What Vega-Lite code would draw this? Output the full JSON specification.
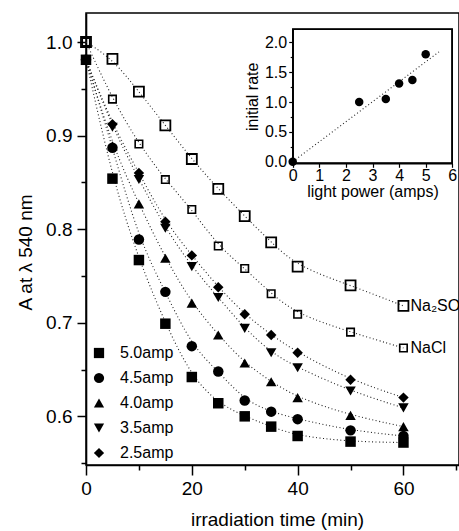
{
  "$schema": "https://vega.github.io/schema/vega-lite/v6.json",
  "width": 373,
  "height": 452,
  "autosize": "none",
  "padding": {"left": 86, "top": 13, "right": 0, "bottom": 66},
  "background": "white",
  "config": {
    "font": "Liberation Sans",
    "view": {"stroke": "black", "strokeWidth": 1.5},
    "axis": {"grid": false, "domainColor": "black", "tickColor": "black", "labelColor": "black", "titleColor": "black", "titleFontWeight": "normal", "labelOverlap": false, "labelFlush": false, "labelFont": "Liberation Sans", "titleFont": "Liberation Sans"},
    "legend": {"labelFont": "Liberation Sans"},
    "text": {"font": "Liberation Sans"}
  },
  "datasets": {
    "main": [
      {"t": 0, "A": 1.0, "s": "Na₂SO₄"}, {"t": 5, "A": 0.982, "s": "Na₂SO₄"}, {"t": 10, "A": 0.947, "s": "Na₂SO₄"}, {"t": 15, "A": 0.911, "s": "Na₂SO₄"}, {"t": 20, "A": 0.875, "s": "Na₂SO₄"}, {"t": 25, "A": 0.843, "s": "Na₂SO₄"}, {"t": 30, "A": 0.814, "s": "Na₂SO₄"}, {"t": 35, "A": 0.786, "s": "Na₂SO₄"}, {"t": 40, "A": 0.760, "s": "Na₂SO₄"}, {"t": 50, "A": 0.740, "s": "Na₂SO₄"}, {"t": 60, "A": 0.718, "s": "Na₂SO₄"},
      {"t": 0, "A": 1.0, "s": "NaCl"}, {"t": 5, "A": 0.939, "s": "NaCl"}, {"t": 10, "A": 0.891, "s": "NaCl"}, {"t": 15, "A": 0.853, "s": "NaCl"}, {"t": 20, "A": 0.821, "s": "NaCl"}, {"t": 25, "A": 0.782, "s": "NaCl"}, {"t": 30, "A": 0.758, "s": "NaCl"}, {"t": 35, "A": 0.731, "s": "NaCl"}, {"t": 40, "A": 0.709, "s": "NaCl"}, {"t": 50, "A": 0.690, "s": "NaCl"}, {"t": 60, "A": 0.673, "s": "NaCl"},
      {"t": 0, "A": 0.981, "s": "5.0amp"}, {"t": 5, "A": 0.854, "s": "5.0amp"}, {"t": 10, "A": 0.767, "s": "5.0amp"}, {"t": 15, "A": 0.699, "s": "5.0amp"}, {"t": 20, "A": 0.642, "s": "5.0amp"}, {"t": 25, "A": 0.614, "s": "5.0amp"}, {"t": 30, "A": 0.600, "s": "5.0amp"}, {"t": 35, "A": 0.589, "s": "5.0amp"}, {"t": 40, "A": 0.579, "s": "5.0amp"}, {"t": 50, "A": 0.573, "s": "5.0amp"}, {"t": 60, "A": 0.572, "s": "5.0amp"},
      {"t": 0, "A": 0.981, "s": "4.5amp"}, {"t": 5, "A": 0.887, "s": "4.5amp"}, {"t": 10, "A": 0.789, "s": "4.5amp"}, {"t": 15, "A": 0.733, "s": "4.5amp"}, {"t": 20, "A": 0.675, "s": "4.5amp"}, {"t": 25, "A": 0.648, "s": "4.5amp"}, {"t": 30, "A": 0.617, "s": "4.5amp"}, {"t": 35, "A": 0.605, "s": "4.5amp"}, {"t": 40, "A": 0.597, "s": "4.5amp"}, {"t": 50, "A": 0.585, "s": "4.5amp"}, {"t": 60, "A": 0.579, "s": "4.5amp"},
      {"t": 0, "A": 0.981, "s": "4.0amp"}, {"t": 5, "A": 0.889, "s": "4.0amp"}, {"t": 10, "A": 0.827, "s": "4.0amp"}, {"t": 15, "A": 0.769, "s": "4.0amp"}, {"t": 20, "A": 0.721, "s": "4.0amp"}, {"t": 25, "A": 0.687, "s": "4.0amp"}, {"t": 30, "A": 0.657, "s": "4.0amp"}, {"t": 35, "A": 0.637, "s": "4.0amp"}, {"t": 40, "A": 0.620, "s": "4.0amp"}, {"t": 50, "A": 0.601, "s": "4.0amp"}, {"t": 60, "A": 0.589, "s": "4.0amp"},
      {"t": 0, "A": 0.981, "s": "3.5amp"}, {"t": 5, "A": 0.909, "s": "3.5amp"}, {"t": 10, "A": 0.853, "s": "3.5amp"}, {"t": 15, "A": 0.801, "s": "3.5amp"}, {"t": 20, "A": 0.760, "s": "3.5amp"}, {"t": 25, "A": 0.727, "s": "3.5amp"}, {"t": 30, "A": 0.694, "s": "3.5amp"}, {"t": 35, "A": 0.668, "s": "3.5amp"}, {"t": 40, "A": 0.652, "s": "3.5amp"}, {"t": 50, "A": 0.627, "s": "3.5amp"}, {"t": 60, "A": 0.609, "s": "3.5amp"},
      {"t": 0, "A": 0.981, "s": "2.5amp"}, {"t": 5, "A": 0.912, "s": "2.5amp"}, {"t": 10, "A": 0.860, "s": "2.5amp"}, {"t": 15, "A": 0.808, "s": "2.5amp"}, {"t": 20, "A": 0.772, "s": "2.5amp"}, {"t": 25, "A": 0.738, "s": "2.5amp"}, {"t": 30, "A": 0.709, "s": "2.5amp"}, {"t": 35, "A": 0.687, "s": "2.5amp"}, {"t": 40, "A": 0.668, "s": "2.5amp"}, {"t": 50, "A": 0.639, "s": "2.5amp"}, {"t": 60, "A": 0.620, "s": "2.5amp"}
    ],
    "labels": [
      {"t": 60, "A": 0.718, "label": "Na₂SO₄", "s": "Na₂SO₄"},
      {"t": 60, "A": 0.673, "label": "NaCl", "s": "NaCl"}
    ],
    "inset": [
      {"p": 0, "r": 0.0}, {"p": 2.5, "r": 1.0}, {"p": 3.5, "r": 1.05}, {"p": 4.0, "r": 1.31}, {"p": 4.5, "r": 1.37}, {"p": 5.0, "r": 1.80}
    ],
    "insetfit": [
      {"p": 0, "r": 0.0}, {"p": 5.5, "r": 1.84}
    ]
  },
  "layer": [
    {
      "layer": [
        {
          "data": {"name": "main"},
          "mark": {"type": "line", "interpolate": "basis", "strokeDash": [1, 2.5], "strokeWidth": 1.1, "color": "#222"},
          "encoding": {
            "x": {"field": "t", "type": "quantitative", "scale": {"domain": [0, 70.5], "nice": false, "zero": false},
              "axis": {"values": [0, 10, 20, 30, 40, 50, 60, 70], "labelExpr": "datum.value % 20 == 0 ? datum.label : ''",
                "tickSize": {"condition": {"test": "datum.value % 20 == 0", "value": 10}, "value": 5},
                "title": "irradiation time (min)", "labelFontSize": 19, "titleFontSize": 19, "labelPadding": 4, "titlePadding": 12, "titleX": 191,
                "domainWidth": 1.6, "tickWidth": 1.5}},
            "y": {"field": "A", "type": "quantitative", "scale": {"domain": [0.548, 1.031], "nice": false, "zero": false},
              "axis": {"values": [0.55, 0.6, 0.65, 0.7, 0.75, 0.8, 0.85, 0.9, 0.95, 1.0],
                "labelExpr": "round(datum.value * 100) % 10 == 0 ? format(datum.value, '.1f') : ''",
                "tickSize": {"condition": {"test": "round(datum.value * 100) % 10 == 0", "value": 9}, "value": 5},
                "title": "A at λ 540 nm", "labelFontSize": 19, "titleFontSize": 19, "labelPadding": 5, "titlePadding": 10, "titleY": 239,
                "domainWidth": 1.6, "tickWidth": 1.5}},
            "detail": {"field": "s"}
          }
        },
        {
          "data": {"name": "main"},
          "transform": [{"filter": "datum.s == 'Na₂SO₄'"}],
          "mark": {"type": "point", "shape": "square", "filled": false, "size": 100, "strokeWidth": 1.8, "color": "black", "opacity": 1},
          "encoding": {"x": {"field": "t", "type": "quantitative"}, "y": {"field": "A", "type": "quantitative"}}
        },
        {
          "data": {"name": "main"},
          "transform": [{"filter": "datum.s == 'NaCl'"}],
          "mark": {"type": "point", "shape": "square", "filled": false, "size": 56, "strokeWidth": 1.6, "color": "black", "opacity": 1},
          "encoding": {"x": {"field": "t", "type": "quantitative"}, "y": {"field": "A", "type": "quantitative"}}
        },
        {
          "data": {"name": "main"},
          "transform": [{"filter": "datum.s != 'NaCl' && datum.s != 'Na₂SO₄'"}],
          "mark": {"type": "point", "filled": true, "size": 110, "color": "black", "opacity": 1},
          "encoding": {
            "x": {"field": "t", "type": "quantitative"},
            "y": {"field": "A", "type": "quantitative"},
            "shape": {"field": "s", "type": "nominal",
              "scale": {"domain": ["5.0amp", "4.5amp", "4.0amp", "3.5amp", "2.5amp"], "range": ["square", "circle", "triangle-up", "triangle-down", "diamond"]},
              "legend": {"orient": "none", "legendX": 5, "legendY": 332, "title": null, "labelFontSize": 16, "labelColor": "black", "symbolSize": 105, "symbolFillColor": "black", "symbolStrokeColor": "black", "symbolStrokeWidth": 0, "rowPadding": 9, "labelOffset": 13, "padding": 0}}
          }
        },
        {
          "data": {"name": "labels"},
          "mark": {"type": "text", "align": "left", "baseline": "middle", "fontSize": 16, "color": "black"},
          "encoding": {
            "x": {"field": "t", "type": "quantitative"},
            "y": {"field": "A", "type": "quantitative"},
            "text": {"field": "label"},
            "xOffset": {"condition": {"test": "datum.s == 'NaCl'", "value": 14}, "value": 7}
          }
        }
      ]
    },
    {
      "layer": [
        {
          "data": {"name": "insetfit"},
          "mark": {"type": "line", "strokeDash": [1, 2.5], "strokeWidth": 1.1, "color": "#222"},
          "encoding": {
            "x": {"field": "p", "type": "quantitative", "scale": {"domain": [0, 6], "range": [206.7, 366.3], "nice": false, "zero": false},
              "axis": {"orient": "bottom", "offset": -301.7, "values": [0, 0.5, 1, 1.5, 2, 2.5, 3, 3.5, 4, 4.5, 5, 5.5, 6],
                "labelExpr": "datum.value % 1 == 0 ? format(datum.value, 'd') : ''",
                "tickSize": {"condition": {"test": "datum.value % 1 == 0", "value": 4}, "value": 2.5},
                "title": "light power (amps)", "labelFontSize": 16, "titleFontSize": 16, "labelPadding": 0, "titlePadding": 0,
                "domainWidth": 1.2, "tickWidth": 1.2}},
            "y": {"field": "r", "type": "quantitative", "scale": {"domain": [-0.027, 2.218], "range": [150.3, 16.3], "nice": false, "zero": false},
              "axis": {"orient": "left", "offset": -206.7, "values": [0, 0.25, 0.5, 0.75, 1, 1.25, 1.5, 1.75, 2],
                "labelExpr": "round(datum.value * 100) % 50 == 0 ? format(datum.value, '.1f') : ''",
                "tickSize": {"condition": {"test": "round(datum.value * 100) % 50 == 0", "value": 4}, "value": 2.5},
                "title": "initial rate", "labelFontSize": 16, "titleFontSize": 16, "labelPadding": 2, "titlePadding": 4,
                "domainWidth": 1.2, "tickWidth": 1.2}}
          }
        },
        {
          "data": {"name": "inset"},
          "mark": {"type": "rect", "filled": false, "stroke": "black", "strokeWidth": 1.2},
          "encoding": {
            "x": {"datum": 0, "type": "quantitative"},
            "x2": {"datum": 6},
            "y": {"datum": -0.027, "type": "quantitative"},
            "y2": {"datum": 2.218}
          }
        },
        {
          "data": {"name": "inset"},
          "mark": {"type": "circle", "size": 72, "color": "black", "opacity": 1},
          "encoding": {
            "x": {"field": "p", "type": "quantitative"},
            "y": {"field": "r", "type": "quantitative"}
          }
        }
      ]
    }
  ],
  "resolve": {"scale": {"x": "independent", "y": "independent"}, "axis": {"x": "independent", "y": "independent"}, "legend": {"shape": "independent"}}
}
